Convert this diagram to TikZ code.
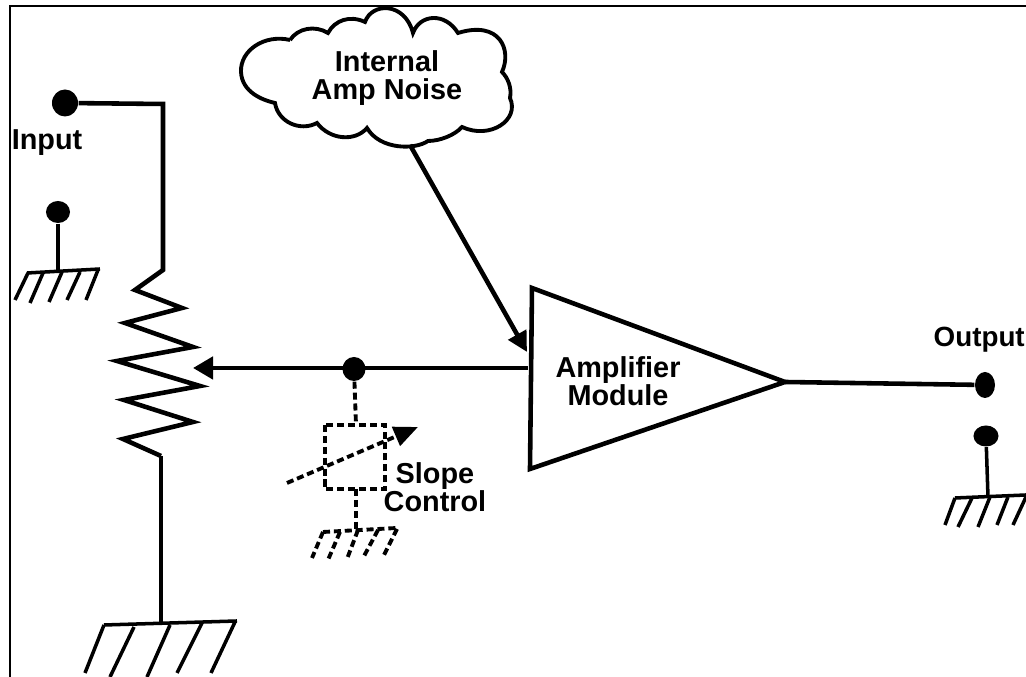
\documentclass[tikz,border=0pt]{standalone}
\usepackage{fontspec}
\setmainfont{Liberation Sans}
\usetikzlibrary{arrows.meta,shapes.geometric}
\tikzset{
  wire/.style={line width=1.3pt,line join=miter},
  thinwire/.style={line width=1pt},
  dashwire/.style={line width=1.1pt,dash pattern=on 2pt off 1.1pt},
  dot/.style={shape=ellipse,fill=black,inner sep=0pt},
  lbl/.style={font={\bfseries\fontsize{8.2}{8}\selectfont\lineskiplimit=-5pt},align=center,inner sep=0pt},
}
\begin{document}
\begin{tikzpicture}[x=0.01cm,y=-0.01cm]
\useasboundingbox (0,0) rectangle (1026,677);
\coordinate (fa) at (10,677);
\coordinate (fb) at (10,6);
\coordinate (fc) at (1026,6);
\draw[line width=0.6pt] (fa) -- (fb) -- (fc);
\node (in) at (65,103) [dot,minimum width=0.26cm,minimum height=0.27cm] {};
\node (ing) at (58,212) [dot,minimum width=0.24cm,minimum height=0.22cm] {};
\node (sl) at (354,369) [dot,minimum width=0.23cm,minimum height=0.24cm] {};
\node (out) at (985,385) [dot,minimum width=0.2cm,minimum height=0.26cm] {};
\node (outg) at (986,436) [dot,minimum width=0.25cm,minimum height=0.21cm] {};
\node (tin) at (47,143) [lbl] {Input};
\node (tout) at (933,340) [lbl,anchor=west,font={\bfseries\fontsize{7.9}{8}\selectfont}] {Output};
\node (tamp) at (618,381) [lbl] {Amplifier\\Module};
\node (tnoise) at (387,78) [lbl] {Internal\\Amp Noise};
\node (tslope) at (435,487) [lbl] {Slope\\Control};
\coordinate (ampa) at (532,288);
\coordinate (ampb) at (530,469);
\coordinate (ampt) at (785,382);
\coordinate (ampl) at (528,368);
\coordinate (ampn) at (527,352);
\coordinate (wiper) at (193,368);
\coordinate (cloudb) at (410,145);
\coordinate (topr) at (163,104);
\coordinate (r0) at (163,270);
\coordinate (r1) at (161,456);
\coordinate (gnd) at (161,624);
\coordinate (ing1) at (58,272);
\coordinate (outg1) at (988,497);
\coordinate (boxt) at (356,425);
\coordinate (boxb) at (356,489);
\coordinate (dg) at (356,529);
\coordinate (sa) at (287,483);
\coordinate (sb) at (418,427);
\draw[line width=1.3pt] (ampa) -- (ampb) -- (ampt) -- cycle;
\draw[wire] (ampt) -- (out);
\draw[wire] (in) -- (topr) -- (r0) -- (135,290) -- (182,308) -- (125,323) -- (193,347) -- (117,361) -- (200,386) -- (124,400) -- (193,422) -- (123,439) -- (r1);
\draw[wire] (r1) -- (gnd);
\draw[wire,-{Triangle[length=0.2cm,width=0.22cm]}] (ampl) -- (wiper);
\draw[wire,-{Triangle[length=0.2cm,width=0.2cm]}] (cloudb) -- (ampn);
\draw[thinwire] (ing) -- (ing1);
\draw[thinwire] (outg) -- (outg1);
\draw[dashwire] (sl) -- (boxt);
\draw[dashwire] (325,425) rectangle (385,489);
\draw[dashwire] (boxb) -- (dg);
\draw[dashwire,-{Triangle[length=0.24cm,width=0.2cm]}] (sa) -- (sb);
\draw[thinwire] (104,625) -- (237,621);
\foreach \a/\b/\c/\d in {104/625/85/673,134/627/110/677,170/625/147/677,202/623/177/673,235/622/211/673}
  \draw[thinwire] (\a,\b) -- (\c,\d);
\draw[thinwire] (27,273) -- (100,269);
\foreach \a/\b/\c/\d in {28/273/15/300,43/273/30/303,62/272/49/302,80/272/67/300,98/270/86/300}
  \draw[thinwire] (\a,\b) -- (\c,\d);
\draw[thinwire] (955,498) -- (1026,495);
\foreach \a/\b/\c/\d in {955/498/945/525,972/498/958/527,990/497/978/527,1008/497/997/525,1026/497/1013/525}
  \draw[thinwire] (\a,\b) -- (\c,\d);
\draw[dashwire] (323,532) -- (397,528);
\foreach \a/\b/\c/\d in {323/532/312/558,340/532/328/560,358/530/347/559,378/530/363/558,397/529/383/557}
  \draw[dashwire] (\a,\b) -- (\c,\d);
\draw[line width=1.1pt] (290,40) .. controls (265,34) and (240,50) .. (241,72)
  .. controls (242,92) and (262,100) .. (275,103)
  .. controls (278,122) and (300,132) .. (317,123)
  .. controls (330,140) and (355,142) .. (367,128)
  .. controls (380,150) and (415,150) .. (428,141)
  .. controls (440,141) and (455,135) .. (462,127)
  .. controls (490,140) and (520,120) .. (510,98)
  .. controls (512,88) and (508,78) .. (502,72)
  .. controls (512,50) and (500,20) .. (458,33)
  .. controls (445,12) and (420,14) .. (413,33)
  .. controls (405,2) and (372,2) .. (365,22)
  .. controls (350,15) and (335,20) .. (328,33)
  .. controls (315,25) and (298,28) .. (290,40);
\end{tikzpicture}
\end{document}
